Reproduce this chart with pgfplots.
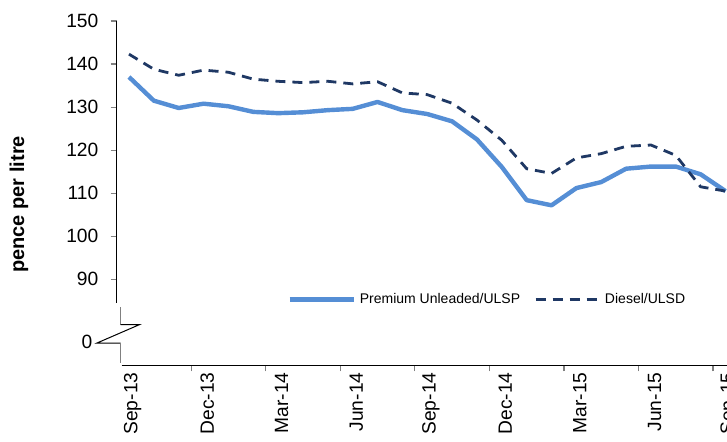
\documentclass[border=0pt]{standalone}
\usepackage{fontspec}
\setmainfont{Liberation Sans}
\usepackage{pgfplots}
\pgfplotsset{compat=1.18}
\definecolor{premblue}{RGB}{85,142,213}
\definecolor{dieselnavy}{RGB}{31,56,100}
\definecolor{tickgray}{RGB}{128,128,128}

% monthly pump prices, Sep-13 (0) to Sep-15 (24)
\pgfplotstableread{
i   premium diesel
0   137.0   142.3
1   131.5   138.8
2   129.8   137.4
3   130.8   138.6
4   130.2   138.1
5   128.9   136.5
6   128.6   136.0
7   128.8   135.7
8   129.3   136.0
9   129.6   135.4
10  131.2   135.9
11  129.3   133.3
12  128.4   132.9
13  126.7   130.9
14  122.5   127.0
15  116.1   122.3
16  108.4   115.7
17  107.2   114.6
18  111.2   118.2
19  112.6   119.2
20  115.7   120.9
21  116.2   121.2
22  116.2   118.8
23  114.4   111.5
24  110.5   110.5
}\prices

\begin{document}
\begin{tikzpicture}
\begin{axis}[
  scale only axis,
  width=310.6pt, height=172.2pt,
  xmin=-0.5, xmax=24.5,
  ymin=70, ymax=150,
  clip=false,
  axis x line*=bottom, axis y line*=left,
  axis line style={draw=none},
  tick pos=left,
  tick align=outside,
  major tick length=3pt,
  tick style={tickgray, line width=0.6pt},
  ytick={90,100,...,150},
  xtick={2.5,5.5,...,23.5},
  xticklabels={},
  extra x ticks={0,3,...,24},
  extra x tick labels={Sep-13,Dec-13,Mar-14,Jun-14,Sep-14,Dec-14,Mar-15,Jun-15,Sep-15},
  extra x tick style={major tick length=0pt},
  xticklabel style={rotate=90, anchor=east, yshift=-1.8pt},
  yticklabel style={xshift=-2.6pt},
  ticklabel style={font=\fontsize{9.6}{11}\selectfont},
  /pgf/number format/assume math mode=true,
  legend style={at={(0.2743,0.1916)}, anchor=west, draw=none, fill=none,
    inner sep=0pt, font=\fontsize{7}{8.5}\selectfont,
    /tikz/every even column/.append style={column sep=5pt}},
  legend columns=2,
  legend cell align=left,
  legend image code/.code={\draw[#1] (0pt,0pt) -- (32pt,0pt);},
]
\addplot[premblue, line width=2.2pt, line join=round] table[x=i, y=premium] {\prices};
\addlegendentry{Premium Unleaded/ULSP}
\addplot[dieselnavy, line width=1.4pt, dash pattern=on 5pt off 3.5pt] table[x=i, y=diesel] {\prices};
\addlegendentry{Diesel/ULSD}

% broken y axis
\draw[black, line width=0.6pt] (axis cs:-0.5,150) -- (axis cs:-0.5,84.49);
\draw[tickgray, line width=0.7pt] (axis cs:-0.334,83.56) -- (axis cs:-0.334,79.47);
\draw[black, line width=0.5pt] (axis cs:-0.334,79.47) -- (axis cs:0.414,79.47)
  -- (axis cs:-1.30,75.19) -- (axis cs:-0.334,75.19);
\draw[tickgray, line width=0.7pt] (axis cs:-0.334,75.19) -- (axis cs:-0.334,70.53);
\draw[black, line width=0.6pt] (axis cs:-0.294,70) -- (axis cs:24.5,70);
\node[font=\fontsize{9.6}{11}\selectfont] at (axis cs:-1.69,75.5) {0};
\node[rotate=90, font=\fontsize{10}{12}\bfseries] at (axis cs:-4.43,107.4) {pence per litre};

\coordinate (bbA) at (axis cs:-5.19,52.44);
\coordinate (bbB) at (axis cs:24.06,154.88);
\end{axis}
\pgfresetboundingbox
\useasboundingbox (bbA) rectangle (bbB);
\end{tikzpicture}
\end{document}
